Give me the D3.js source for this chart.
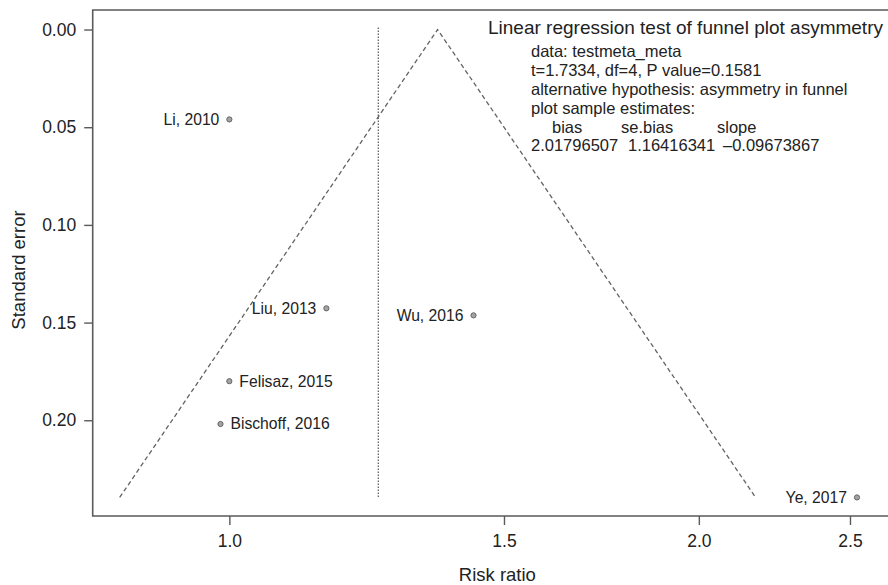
<!DOCTYPE html>
<html>
<head>
<meta charset="utf-8">
<script src="https://cdn.jsdelivr.net/npm/d3@7"></script>
<style>
  html, body { margin: 0; padding: 0; background: #fff; }
  svg { display: block; font-family: "Liberation Sans", Arial, Helvetica, sans-serif; }
</style>
</head>
<body>
<svg id="chart" width="888" height="585"></svg>
<script>
// Study-level estimates for the funnel plot
const studies = ["Li, 2010", "Liu, 2013", "Felisaz, 2015", "Bischoff, 2016", "Wu, 2016", "Ye, 2017"];
const riskRatio = [1.00, 1.154, 1.00, 0.987, 1.434, 2.526];
const stdError = [0.046, 0.1427, 0.180, 0.2019, 0.1463, 0.2395];

// Pooled estimates (fixed effect = funnel apex, random effects = dotted line)
const fixedRR = 1.360;
const randomRR = 1.246;

// Axis ticks
const xTicks = [1.0, 1.5, 2.0, 2.5];
const xTickLabels = ["1.0", "1.5", "2.0", "2.5"];
const yTicks = [0.00, 0.05, 0.10, 0.15, 0.20];
const yTickLabels = ["0.00", "0.05", "0.10", "0.15", "0.20"];

// Egger's regression test output
const testTitle = "Linear regression test of funnel plot asymmetry";
const testLines = [
  "data: testmeta_meta",
  "t=1.7334, df=4, P value=0.1581",
  "alternative hypothesis: asymmetry in funnel",
  "plot sample estimates:"
];
const estimateNames = ["bias", "se.bias", "slope"];
const estimateValues = ["2.01796507", "1.16416341", "\u20130.09673867"];

const svg = d3.select("#chart");
const box = { left: 92.7, top: 10, right: 892, bottom: 516 };

const x = d3.scaleLog().domain([0.8173, 2.660]).range([box.left, box.right]);
const y = d3.scaleLinear().domain([-0.0100, 0.249]).range([box.top, box.bottom]);

const ink = "#222";
const axisCol = "#5a5a5a";

// Plot frame (left, top, bottom)
svg.append("path")
  .attr("d", `M${box.right},${box.top}H${box.left}V${box.bottom}H${box.right}`)
  .attr("fill", "none").attr("stroke", axisCol).attr("stroke-width", 1.6);

// Y axis
const yAxis = d3.axisLeft(y).tickValues(yTicks)
  .tickFormat((d, i) => yTickLabels[i]).tickSize(8.5).tickPadding(8);
const gy = svg.append("g").attr("transform", `translate(${box.left},0)`).call(yAxis);
gy.select(".domain").remove();
gy.selectAll("line").attr("stroke", axisCol).attr("stroke-width", 1.4);
gy.selectAll("text").attr("fill", ink).style("font-size", "17.5px");

// X axis
const xAxis = d3.axisBottom(x).tickValues(xTicks)
  .tickFormat((d, i) => xTickLabels[i]).tickSize(9).tickPadding(10);
const gx = svg.append("g").attr("transform", `translate(0,${box.bottom})`).call(xAxis);
gx.select(".domain").remove();
gx.selectAll("line").attr("stroke", axisCol).attr("stroke-width", 1.4);
gx.selectAll("text").attr("fill", ink).style("font-size", "17.5px");

// Axis titles
svg.append("text").attr("x", (box.left + 888) / 2 + 7).attr("y", 581)
  .attr("text-anchor", "middle").attr("fill", ink).style("font-size", "18.5px")
  .text("Risk ratio");
svg.append("text").attr("transform", `translate(24.5,270) rotate(-90)`)
  .attr("text-anchor", "middle").attr("fill", ink).style("font-size", "18.5px")
  .text("Standard error");

// Pseudo 95% confidence funnel around the fixed-effect estimate
const seMax = d3.max(stdError);
const lf = Math.log(fixedRR);
const funnel = [
  [Math.exp(lf - 1.96 * seMax), seMax],
  [fixedRR, 0],
  [Math.exp(lf + 1.96 * seMax), seMax]
];
svg.append("path")
  .attr("d", d3.line().x(d => x(d[0])).y(d => y(d[1]))(funnel))
  .attr("fill", "none").attr("stroke", "#626262").attr("stroke-width", 1.3)
  .attr("stroke-dasharray", "4.5,3");

// Random-effects estimate
svg.append("line")
  .attr("x1", x(randomRR)).attr("x2", x(randomRR))
  .attr("y1", y(-0.001)).attr("y2", y(seMax))
  .attr("stroke", "#626262").attr("stroke-width", 1.3)
  .attr("stroke-dasharray", "1.5,1.5");

// Studies
const labelRight = new Set(["Felisaz, 2015", "Bischoff, 2016"]);
const pts = svg.append("g");
studies.forEach((name, i) => {
  const cx = x(riskRatio[i]), cy = y(stdError[i]);
  pts.append("circle").attr("cx", cx).attr("cy", cy).attr("r", 2.6)
    .attr("fill", "#a3a3a3").attr("stroke", "#666").attr("stroke-width", 1);
  const right = labelRight.has(name);
  pts.append("text")
    .attr("x", right ? cx + 10 : cx - 10).attr("y", cy + 5.5)
    .attr("text-anchor", right ? "start" : "end")
    .attr("fill", ink).style("font-size", "15.7px")
    .text(name);
});

// Test result text block
const tb = svg.append("g").attr("fill", ink);
tb.append("text").attr("x", 488).attr("y", 34).style("font-size", "19px").text(testTitle);
const lineY0 = 57, lineStep = 19;
testLines.forEach((t, i) => {
  tb.append("text").attr("x", 531).attr("y", lineY0 + i * lineStep).style("font-size", "16.5px").text(t);
});
const nameX = [552, 621, 717];
const valX = [531, 628, 723];
estimateNames.forEach((t, i) => {
  tb.append("text").attr("x", nameX[i]).attr("y", lineY0 + 4 * lineStep).style("font-size", "16.5px").text(t);
});
estimateValues.forEach((t, i) => {
  tb.append("text").attr("x", valX[i]).attr("y", lineY0 + 5 * lineStep - 1).style("font-size", "16.5px").text(t);
});
</script>
</body>
</html>
